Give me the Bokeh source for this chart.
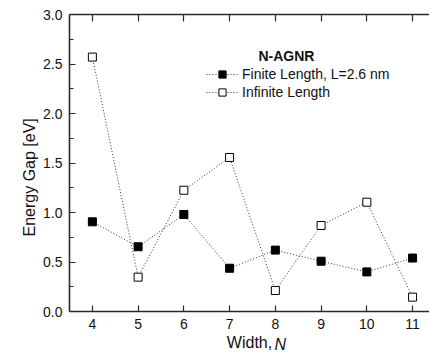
import math
from bokeh.plotting import figure
from bokeh.models import (Legend, LegendItem, Label, LinearAxis, FixedTicker,
                          NumeralTickFormatter, Range1d, Title)
from bokeh.embed import file_html
from bokeh.resources import INLINE

# ---- data ----
widths = [4, 5, 6, 7, 8, 9, 10, 11]
finite_gap = [0.906, 0.654, 0.980, 0.437, 0.620, 0.508, 0.400, 0.540]
infinite_gap = [2.570, 0.347, 1.225, 1.556, 0.212, 0.869, 1.104, 0.145]
y_ticks = [0.0, 0.5, 1.0, 1.5, 2.0, 2.5, 3.0]
y_minor = [0.25, 0.75, 1.25, 1.75, 2.25, 2.75]
legend_title = "N-AGNR"
label_finite = "Finite Length, L=2.6 nm"
label_infinite = "Infinite Length"

FONT = "Liberation Sans"
AX = "#2a2a2a"

p = figure(width=429, height=358, output_backend="svg", toolbar_location=None,
           x_range=Range1d(3.5, 11.37), y_range=Range1d(0, 3),
           min_border_left=69, min_border_right=0, min_border_top=14,
           min_border_bottom=47, x_axis_location=None, y_axis_location=None)
p.outline_line_color = None
p.xgrid.visible = False
p.ygrid.visible = False
p.background_fill_color = "white"
p.border_fill_color = "white"

# axes
xb = LinearAxis(ticker=FixedTicker(ticks=widths), axis_label="Width,")
yl = LinearAxis(ticker=FixedTicker(ticks=y_ticks, minor_ticks=y_minor),
                formatter=NumeralTickFormatter(format="0.0"))
xt = LinearAxis(ticker=FixedTicker(ticks=widths))
for ax in (xb, yl, xt):
    ax.axis_line_color = AX
    ax.axis_line_width = 1.6
    ax.major_tick_line_color = AX
    ax.major_tick_line_width = 1.2
    ax.minor_tick_line_color = AX
    ax.minor_tick_line_width = 1.2
    ax.major_tick_out = 0
    ax.major_tick_in = 6
    ax.minor_tick_out = 0
    ax.minor_tick_in = 4
    ax.major_label_text_font = FONT
    ax.major_label_text_font_size = "14px"
    ax.major_label_text_color = "#111111"
xb.minor_tick_line_color = None
xt.minor_tick_line_color = None
xb.major_label_standoff = 7
xb.axis_label_standoff = 2
xb.axis_label_text_font = FONT
xb.axis_label_text_font_size = "16px"
xb.axis_label_text_font_style = "normal"
xb.axis_label_text_color = "#111111"
yl.major_label_standoff = 7
xt.major_label_text_font_size = "1px"
xt.major_label_text_color = None
xt.major_label_standoff = 0
xt.major_tick_in = 7
p.add_layout(xb, "below")
p.add_layout(yl, "left")
p.add_layout(xt, "above")

# y axis title (placed with offset from the bottom of the frame)
ytitle = Title(text="Energy Gap [eV]", align="left", offset=75, standoff=6,
               text_font=FONT, text_font_size="16px", text_font_style="normal",
               text_color="#111111")
p.add_layout(ytitle, "left")

# italic "N" of the x axis title, pulled up next to "Width,"
ntitle = Title(text="N", align="left", offset=205, standoff=-36, vertical_align="top",
               text_font=FONT, text_font_size="16px", text_font_style="italic",
               text_color="#111111")
p.add_layout(ntitle, "below")

# series
l1 = p.line(widths, finite_gap, line_color="#333333", line_width=1, line_dash="1 2")
s1 = p.scatter(widths, finite_gap, marker="square", size=8, fill_color="black",
               line_color="black", line_width=1)
l2 = p.line(widths, infinite_gap, line_color="#333333", line_width=1, line_dash="1 2")
s2 = p.scatter(widths, infinite_gap, marker="square", size=8, fill_color="white",
               line_color="black", line_width=1)

legend = Legend(items=[LegendItem(label=label_finite, renderers=[l1, s1]),
                       LegendItem(label=label_infinite, renderers=[l2, s2])],
                location=(137, 210), padding=0, margin=0, spacing=0,
                label_height=18, glyph_height=18, glyph_width=32, label_standoff=4,
                border_line_color=None, background_fill_alpha=0,
                label_text_font=FONT, label_text_font_size="14px",
                label_text_color="#111111")
p.add_layout(legend, "center")

p.add_layout(Label(x=7.63, y=2.584, text=legend_title, text_font=FONT,
                   text_font_size="14px", text_font_style="bold",
                   text_align="left", text_baseline="middle", text_color="#111111"))

open("out.html", "w").write(file_html(p, INLINE))
